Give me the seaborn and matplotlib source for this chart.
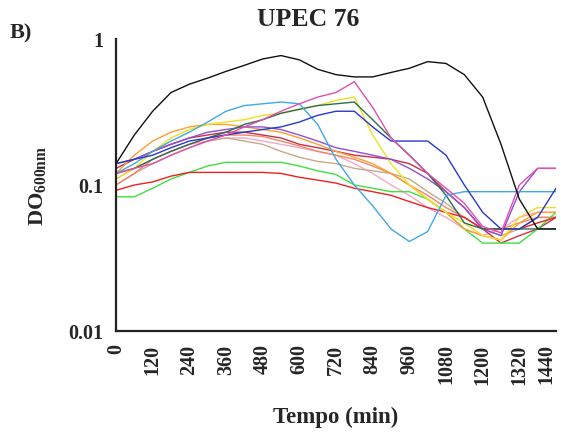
import matplotlib
matplotlib.use("Agg")
import matplotlib.pyplot as plt
import seaborn as sns
import pandas as pd
import numpy as np
from matplotlib.ticker import FixedLocator, NullLocator, FixedFormatter

# ---- data ----
time_min = [0, 60, 120, 180, 240, 300, 360, 420, 480, 540, 600, 660, 720,
            780, 840, 900, 960, 1020, 1080, 1140, 1200, 1260, 1320, 1380, 1440]

black = [0.14, 0.22, 0.32, 0.43, 0.49, 0.54, 0.60, 0.66, 0.73, 0.77, 0.72, 0.62, 0.57,
         0.55, 0.55, 0.59, 0.63, 0.70, 0.68, 0.57, 0.40, 0.19, 0.08, 0.05, 0.05]
red = [0.092, 0.10, 0.105, 0.115, 0.122, 0.122, 0.122, 0.122, 0.122, 0.12, 0.113, 0.108, 0.103,
       0.095, 0.09, 0.085, 0.077, 0.07, 0.065, 0.06, 0.05, 0.05, 0.05, 0.055, 0.06]
green = [0.083, 0.083, 0.095, 0.11, 0.122, 0.135, 0.143, 0.143, 0.143, 0.143, 0.135, 0.125, 0.118,
         0.10, 0.095, 0.09, 0.09, 0.08, 0.065, 0.05, 0.04, 0.04, 0.04, 0.05, 0.065]
lightblue = [0.12, 0.14, 0.17, 0.20, 0.23, 0.27, 0.32, 0.35, 0.36, 0.37, 0.36, 0.26, 0.15,
             0.10, 0.072, 0.05, 0.041, 0.048, 0.085, 0.09, 0.09, 0.09, 0.09, 0.09, 0.09]
magenta = [0.12, 0.13, 0.14, 0.16, 0.18, 0.20, 0.22, 0.25, 0.28, 0.32, 0.36, 0.40, 0.43,
           0.51, 0.34, 0.21, 0.16, 0.12, 0.095, 0.075, 0.052, 0.047, 0.10, 0.13, 0.13]
yellow = [0.11, 0.13, 0.17, 0.21, 0.24, 0.26, 0.27, 0.28, 0.30, 0.31, 0.33, 0.35, 0.38,
          0.40, 0.22, 0.14, 0.10, 0.08, 0.065, 0.055, 0.045, 0.042, 0.06, 0.07, 0.07]
orange = [0.12, 0.16, 0.20, 0.23, 0.25, 0.26, 0.26, 0.25, 0.24, 0.23, 0.21, 0.19, 0.17,
          0.155, 0.14, 0.12, 0.10, 0.08, 0.065, 0.05, 0.045, 0.042, 0.055, 0.065, 0.065]
purple = [0.14, 0.15, 0.17, 0.19, 0.21, 0.23, 0.24, 0.25, 0.25, 0.24, 0.22, 0.20, 0.18,
          0.17, 0.16, 0.15, 0.13, 0.11, 0.09, 0.07, 0.05, 0.045, 0.09, 0.13, 0.13]
darkblue = [0.14, 0.15, 0.16, 0.18, 0.20, 0.21, 0.22, 0.23, 0.24, 0.25, 0.27, 0.30, 0.32,
            0.32, 0.25, 0.20, 0.20, 0.20, 0.16, 0.10, 0.065, 0.05, 0.05, 0.06, 0.095]
darkgreen = [0.12, 0.13, 0.15, 0.17, 0.19, 0.21, 0.23, 0.26, 0.28, 0.31, 0.33, 0.35, 0.36,
             0.37, 0.28, 0.21, 0.16, 0.12, 0.085, 0.055, 0.05, 0.05, 0.05, 0.05, 0.05]
crimson = [0.13, 0.15, 0.17, 0.19, 0.21, 0.22, 0.23, 0.23, 0.22, 0.21, 0.19, 0.18, 0.17,
           0.16, 0.155, 0.15, 0.14, 0.12, 0.09, 0.07, 0.05, 0.04, 0.045, 0.05, 0.06]
tan = [0.10, 0.12, 0.14, 0.16, 0.18, 0.20, 0.21, 0.20, 0.19, 0.17, 0.155, 0.145, 0.14,
       0.13, 0.125, 0.12, 0.11, 0.09, 0.075, 0.06, 0.05, 0.045, 0.05, 0.06, 0.06]
salmon = [0.10, 0.12, 0.15, 0.17, 0.19, 0.21, 0.22, 0.22, 0.215, 0.20, 0.185, 0.17, 0.16,
          0.15, 0.135, 0.12, 0.10, 0.085, 0.07, 0.06, 0.05, 0.05, 0.055, 0.06, 0.06]
lightpink = [0.11, 0.13, 0.15, 0.17, 0.19, 0.20, 0.21, 0.21, 0.20, 0.19, 0.18, 0.17, 0.16,
             0.14, 0.12, 0.10, 0.085, 0.07, 0.06, 0.05, 0.045, 0.05, 0.06, 0.065, 0.065]

series = {
    "lightpink": lightpink, "tan": tan, "salmon": salmon, "crimson": crimson,
    "green": green, "red": red, "orange": orange, "yellow": yellow,
    "purple": purple, "darkgreen": darkgreen, "lightblue": lightblue,
    "darkblue": darkblue, "magenta": magenta, "black": black,
}
colors = {
    "black": "#111111", "red": "#F02020", "green": "#40E040", "lightblue": "#40A8E8",
    "magenta": "#E050B0", "yellow": "#F0E020", "orange": "#FFA030", "purple": "#9050D0",
    "darkblue": "#2838C8", "darkgreen": "#2E6E50", "crimson": "#C83048", "tan": "#C8A888",
    "salmon": "#F08868", "lightpink": "#F4A8C8",
}

x_ticks = [0, 120, 240, 360, 480, 600, 720, 840, 960, 1080, 1200, 1320, 1440]
y_ticks = [0.01, 0.1, 1]
y_tick_labels = ["0.01", "0.1", "1"]

rows = []
for name, vals in series.items():
    for t, v in zip(time_min, vals):
        rows.append({"t": t, "od": v, "strain": name})
df = pd.DataFrame(rows)

sns.set_theme(style="white")
plt.rcParams["font.family"] = ["Liberation Serif", "DejaVu Serif"]
plt.rcParams["mathtext.fontset"] = "custom"
plt.rcParams["mathtext.rm"] = "Liberation Serif"
plt.rcParams["mathtext.bf"] = "Liberation Serif:bold"

fig = plt.figure(figsize=(5.61, 4.35), dpi=100)
ax = fig.add_axes([116 / 561, 1 - 332 / 435, 440 / 561, 292 / 435])

sns.lineplot(data=df, x="t", y="od", hue="strain", palette=colors,
             hue_order=list(series.keys()), legend=False, linewidth=1.0,
             ax=ax, estimator=None, sort=False)

ax.set_yscale("log")
ax.set_ylim(0.01, 1)
ax.set_xlim(0, 1440)
ax.yaxis.set_major_locator(FixedLocator(y_ticks))
ax.yaxis.set_major_formatter(FixedFormatter(y_tick_labels))
ax.yaxis.set_minor_locator(NullLocator())
ax.set_xticks(x_ticks)
ax.set_xticklabels([str(v) for v in x_ticks], rotation=90)

for s in ["top", "right"]:
    ax.spines[s].set_visible(False)
for s in ["left", "bottom"]:
    ax.spines[s].set_linewidth(1.6)
    ax.spines[s].set_color("#222222")
ax.tick_params(axis="both", which="major", direction="out", length=7, width=1.6,
               color="#222222", labelsize=14.5, pad=2)
for lab in ax.get_xticklabels() + ax.get_yticklabels():
    lab.set_fontweight("bold")
ax.get_xticklabels()[-1].set_horizontalalignment("right")

ax.set_xlabel("Tempo (min)", fontsize=16.5, fontweight="bold", labelpad=16)
ax.set_ylabel(r"$\mathbf{DO}_{\mathbf{600nm}}$", fontsize=16, labelpad=14)
ax.grid(False)

fig.text(308 / 561, 1 - 19 / 435, "UPEC 76", fontsize=18.5, fontweight="bold",
         ha="center", va="center")
fig.text(10 / 561, 1 - 33 / 435, "B)", fontsize=16, fontweight="bold",
         ha="left", va="center")

fig.savefig("out.png", dpi=100)
